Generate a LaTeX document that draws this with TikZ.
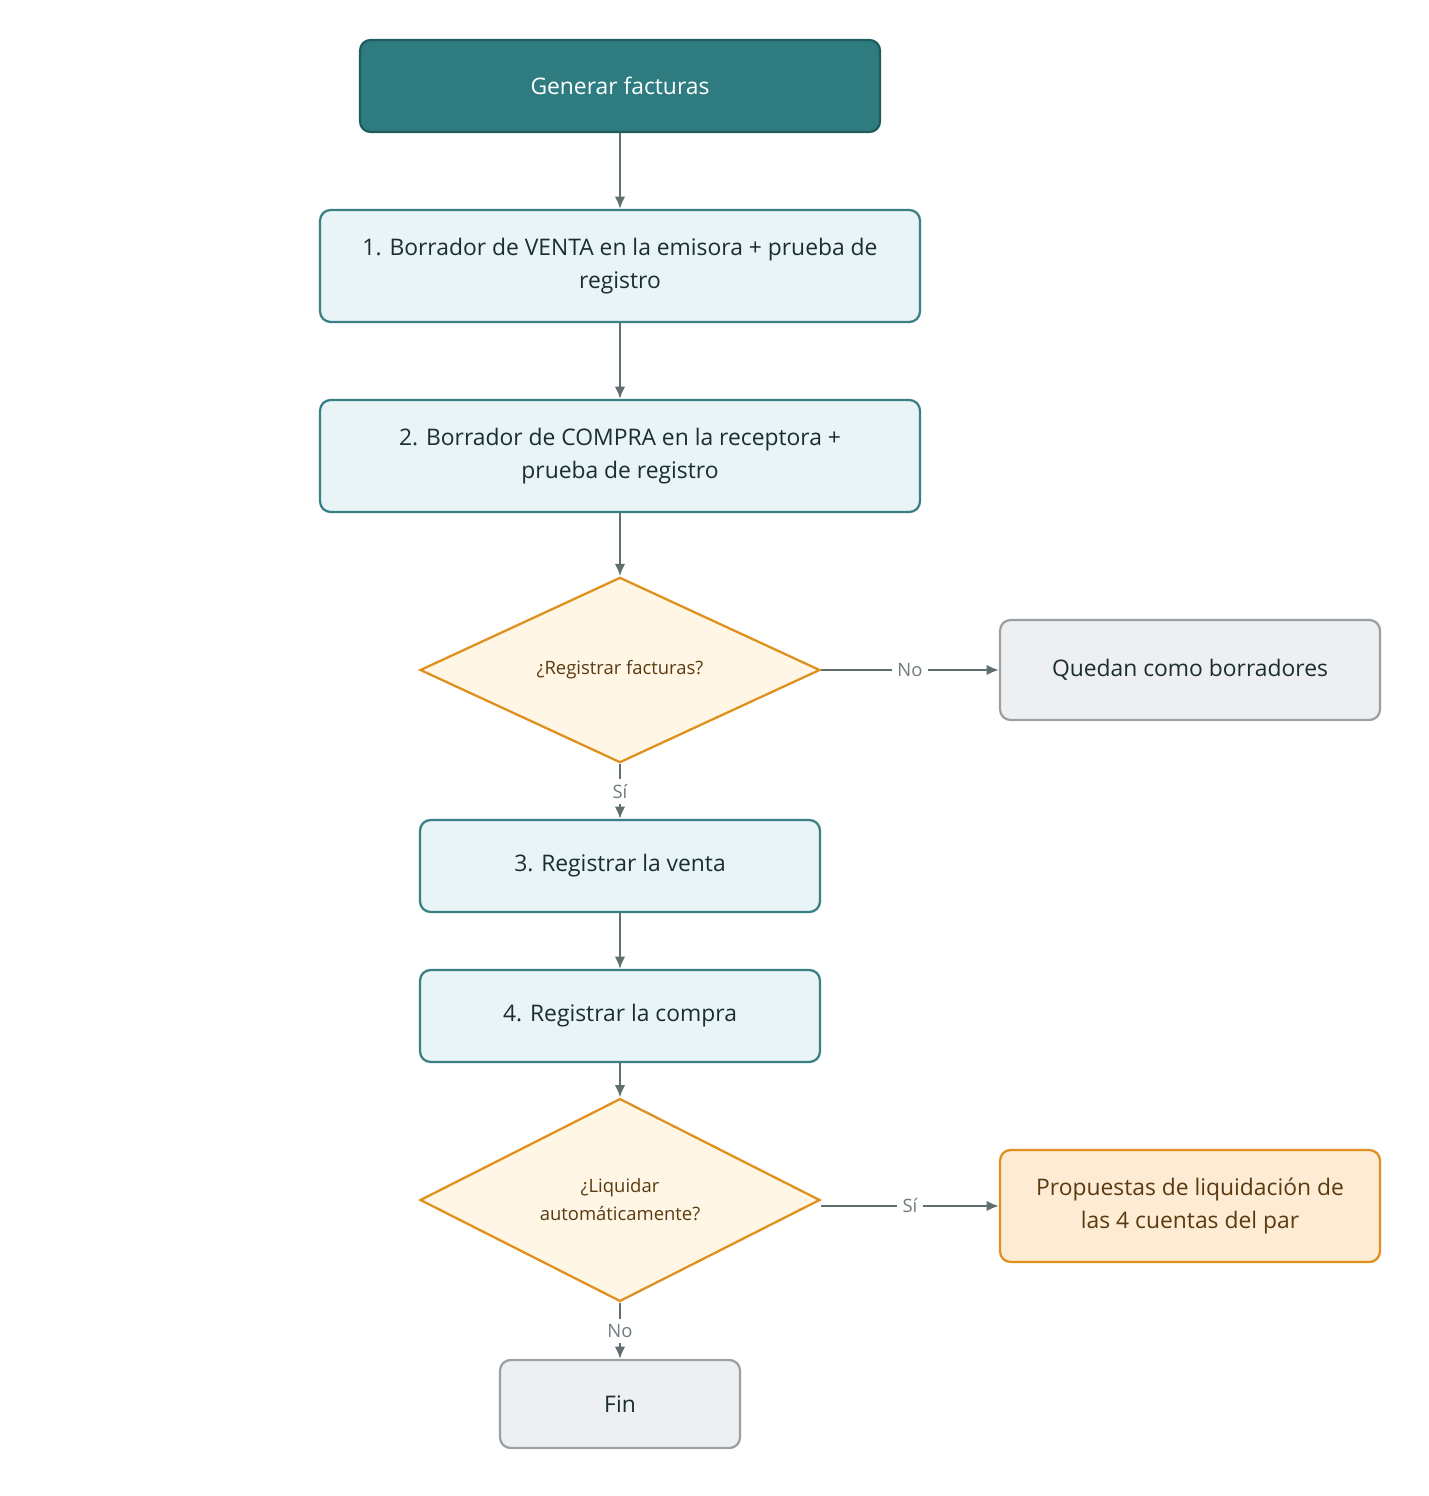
\documentclass[tikz,border=0pt]{standalone}
\usepackage{fontspec}
\setmainfont{Open Sans}
\usetikzlibrary{shapes.geometric,arrows.meta}
\definecolor{tealdark}{HTML}{2E7C80}
\definecolor{tealline}{HTML}{1E5C5E}
\definecolor{stepfill}{HTML}{E8F4F5}
\definecolor{stepline}{HTML}{3A8085}
\definecolor{askfill}{HTML}{FFF6E5}
\definecolor{askline}{HTML}{E0901C}
\definecolor{greyfill}{HTML}{EEEFF1}
\definecolor{greyline}{HTML}{9AA0A4}
\definecolor{orfill}{HTML}{FDEBD3}
\definecolor{arrowgrey}{HTML}{5F6F70}
\definecolor{inktext}{HTML}{1A2E30}
\definecolor{browntext}{HTML}{5A3A10}
\begin{document}
\begin{tikzpicture}[
    x=0.02cm, y=-0.02cm,
    box/.style={rectangle, rounded corners=6pt, line width=1.3pt, align=center,
        font=\fontsize{13}{19}\selectfont, text=inktext},
    stepbox/.style={box, fill=stepfill, draw=stepline, minimum height=2.24cm, minimum width=12cm},
    smallbox/.style={box, fill=stepfill, draw=stepline, minimum height=1.84cm, minimum width=8cm},
    ask/.style={diamond, fill=askfill, draw=askline, line width=1.3pt, inner sep=0pt,
        minimum width=8cm, minimum height=3.2cm, align=center,
        font=\fontsize{10.5}{16}\selectfont, text=browntext},
    flow/.style={-{Latex[length=7pt,width=6pt]}, line width=1.3pt, draw=arrowgrey},
    tag/.style={fill=white, font=\fontsize{10.5}{12}\selectfont, text=arrowgrey!90, inner sep=3pt}
]
    \useasboundingbox (0,0) rectangle (1428,1496);

    % Nodes
    \node[box, fill=tealdark, draw=tealline, text=white, minimum width=10.4cm, minimum height=1.84cm] (start) at (620,86) {Generar facturas};
    \node[stepbox] (venta) at (620,266) {1. Borrador de VENTA en la emisora + prueba de\\registro};
    \node[stepbox] (compra) at (620,456) {2. Borrador de COMPRA en la receptora +\\prueba de registro};
    \node[ask] (registrar) at (620,670) {¿Registrar facturas?};
    \node[box, fill=greyfill, draw=greyline, minimum width=7.6cm, minimum height=2cm] (borradores) at (1190,670) {Quedan como borradores};
    \node[smallbox] (regventa) at (620,866) {3. Registrar la venta};
    \node[smallbox] (regcompra) at (620,1016) {4. Registrar la compra};
    \node[ask] (liquidar) at (620,1200) {¿Liquidar\\automáticamente?};
    \node[box, fill=orfill, draw=askline, text=browntext, minimum width=7.6cm, minimum height=2.24cm] (propuestas) at (1190,1206) {Propuestas de liquidación de\\las 4 cuentas del par};
    \node[box, fill=greyfill, draw=greyline, minimum width=4.8cm, minimum height=1.76cm] (fin) at (620,1404) {Fin};

    % Connectors
    \draw[flow] (start) -- (venta);
    \draw[flow] (venta) -- (compra);
    \draw[flow] (compra) -- (registrar);
    \draw[flow] (registrar) -- node[tag] {No} (borradores);
    \draw[flow] (registrar) -- node[tag] {Sí} (regventa);
    \draw[flow] (regventa) -- (regcompra);
    \draw[flow] (regcompra) -- (liquidar);
    \draw[flow] (liquidar.east) ++(0,6) -- node[tag] {Sí} (propuestas.west);
    \draw[flow] (liquidar) -- node[tag] {No} (fin);
\end{tikzpicture}
\end{document}
